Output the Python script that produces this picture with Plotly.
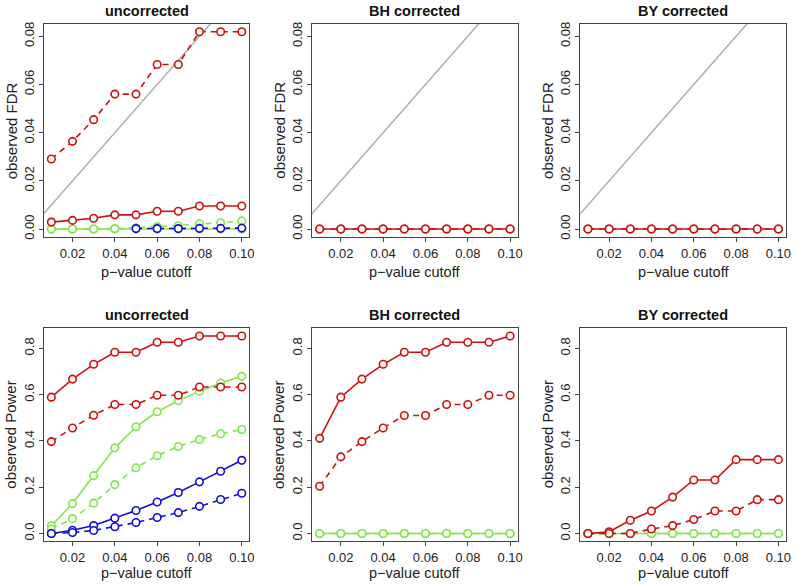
import plotly.graph_objects as go

# ---------------- data ----------------
cutoffs = [0.01, 0.02, 0.03, 0.04, 0.05, 0.06, 0.07, 0.08, 0.09, 0.10]

# observed FDR, uncorrected
fdr_unc_red_solid = [0.0029, 0.0036, 0.0045, 0.0059, 0.0059, 0.0074, 0.0074, 0.0096, 0.0096, 0.0096]
fdr_unc_red_dash = [0.0291, 0.0364, 0.0454, 0.0560, 0.0560, 0.0683, 0.0683, 0.0819, 0.0819, 0.0819]
fdr_unc_green_solid = [0, 0, 0, 0, 0, 0, 0, 0, 0, 0]
fdr_unc_green_dash = [0, 0, 0, 0.0002, 0.0005, 0.0010, 0.0014, 0.0022, 0.0026, 0.0034]
fdr_unc_blue_solid = [None, None, None, None, None, None, None, None, None, None]
fdr_unc_blue_dash = [None, None, None, None, 0.0002, 0.0002, 0.0002, 0.0003, 0.0003, 0.0004]

# observed FDR, BH corrected
fdr_bh_red_solid = [0, 0, 0, 0, 0, 0, 0, 0, 0, 0]
fdr_bh_red_dash = [0, 0, 0, 0, 0, 0, 0, 0, 0, 0]

# observed FDR, BY corrected
fdr_by_red_solid = [0, 0, 0, 0, 0, 0, 0, 0, 0, 0]
fdr_by_red_dash = [0, 0, 0, 0, 0, 0, 0, 0, 0, 0]

# observed power, uncorrected
pow_unc_red_solid = [0.589, 0.667, 0.731, 0.783, 0.783, 0.826, 0.826, 0.853, 0.853, 0.853]
pow_unc_red_dash = [0.397, 0.456, 0.511, 0.557, 0.557, 0.597, 0.597, 0.633, 0.633, 0.633]
pow_unc_green_solid = [0.033, 0.129, 0.250, 0.370, 0.461, 0.526, 0.574, 0.614, 0.650, 0.679]
pow_unc_green_dash = [0.019, 0.064, 0.131, 0.211, 0.284, 0.336, 0.376, 0.406, 0.431, 0.449]
pow_unc_blue_solid = [0.000, 0.014, 0.034, 0.066, 0.099, 0.136, 0.177, 0.223, 0.269, 0.316]
pow_unc_blue_dash = [0.000, 0.004, 0.013, 0.029, 0.047, 0.069, 0.090, 0.117, 0.147, 0.174]

# observed power, BH corrected
pow_bh_red_solid = [0.411, 0.589, 0.667, 0.731, 0.783, 0.783, 0.826, 0.826, 0.826, 0.853]
pow_bh_red_dash = [0.204, 0.331, 0.397, 0.456, 0.510, 0.510, 0.557, 0.557, 0.597, 0.597]
pow_bh_green_solid = [0, 0, 0, 0, 0, 0, 0, 0, 0, 0]
pow_bh_green_dash = [0, 0, 0, 0, 0, 0, 0, 0, 0, 0]

# observed power, BY corrected
pow_by_red_solid = [0.000, 0.007, 0.057, 0.097, 0.157, 0.231, 0.231, 0.319, 0.319, 0.319]
pow_by_red_dash = [0.000, 0.000, 0.000, 0.019, 0.034, 0.060, 0.097, 0.097, 0.146, 0.146]
pow_by_green_solid = [0, 0, 0, 0, 0, 0, 0, 0, 0, 0]
pow_by_green_dash = [0, 0, 0, 0, 0, 0, 0, 0, 0, 0]

panel_titles = ["uncorrected", "BH corrected", "BY corrected"]
x_ticks = [0.02, 0.04, 0.06, 0.08, 0.10]
fdr_ticks = [0.00, 0.02, 0.04, 0.06, 0.08]
pow_ticks = [0.0, 0.2, 0.4, 0.6, 0.8]

RED = "#CD1010"
GREEN = "#80E646"
BLUE = "#1010CD"
GREY = "#A8A8A8"

W, H = 797, 584
col_px = [(44, 251), (314, 521), (584, 791)]
row_px = [(22, 237), (329, 544)]

FONT = "Liberation Sans, Arial, sans-serif"

fig = go.Figure()


def dom_x(c):
    return [col_px[c][0] / W, col_px[c][1] / W]


def dom_y(r):
    return [1 - row_px[r][1] / H, 1 - row_px[r][0] / H]


def add_series(ax, ay, ys, color, dashed):
    fig.add_trace(go.Scatter(
        x=cutoffs, y=ys, mode="lines+markers", xaxis=ax, yaxis=ay,
        line=dict(color=color, width=1.6, dash="6px,5px" if dashed else "solid"),
        marker=dict(symbol="circle", size=7.5, color="white",
                    line=dict(color=color, width=1.6)),
        showlegend=False, hoverinfo="skip", connectgaps=False))


panels = [
    # (row, col, series list in draw order, identity line?)
    (0, 0, [(fdr_unc_green_solid, GREEN, False), (fdr_unc_green_dash, GREEN, True),
            (fdr_unc_blue_solid, BLUE, False), (fdr_unc_blue_dash, BLUE, True),
            (fdr_unc_red_solid, RED, False), (fdr_unc_red_dash, RED, True)], True),
    (0, 1, [(fdr_bh_red_solid, RED, False), (fdr_bh_red_dash, RED, True)], True),
    (0, 2, [(fdr_by_red_solid, RED, False), (fdr_by_red_dash, RED, True)], True),
    (1, 0, [(pow_unc_green_solid, GREEN, False), (pow_unc_green_dash, GREEN, True),
            (pow_unc_blue_solid, BLUE, False), (pow_unc_blue_dash, BLUE, True),
            (pow_unc_red_solid, RED, False), (pow_unc_red_dash, RED, True)], False),
    (1, 1, [(pow_bh_green_dash, GREEN, True), (pow_bh_green_solid, GREEN, False),
            (pow_bh_red_solid, RED, False), (pow_bh_red_dash, RED, True)], False),
    (1, 2, [(pow_by_green_dash, GREEN, True), (pow_by_green_solid, GREEN, False),
            (pow_by_red_solid, RED, False), (pow_by_red_dash, RED, True)], False),
]

layout = dict(width=W, height=H, margin=dict(l=0, r=0, t=0, b=0),
              paper_bgcolor="white", plot_bgcolor="white",
              font=dict(family=FONT, color="#222"), annotations=[])

xmin, xmax = min(cutoffs), max(cutoffs)
xpad = 0.04 * (xmax - xmin)

for i, (r, c, series, ident) in enumerate(panels):
    n = i + 1
    ax = "x" if n == 1 else f"x{n}"
    ay = "y" if n == 1 else f"y{n}"
    if r == 0:
        ymax = max(fdr_unc_red_dash)
        yt, fmt, ytitle = fdr_ticks, ".2f", "observed FDR"
    else:
        ymax = max(pow_unc_red_solid)
        yt, fmt, ytitle = pow_ticks, ".1f", "observed Power"
    ypad = 0.04 * ymax
    if ident:
        fig.add_trace(go.Scatter(x=[0, 1], y=[0, 1], mode="lines", xaxis=ax, yaxis=ay,
                                 line=dict(color=GREY, width=1.4),
                                 showlegend=False, hoverinfo="skip"))
    for ys, colr, dashed in series:
        add_series(ax, ay, ys, colr, dashed)

    axis_common = dict(showline=True, mirror=True, linecolor="#444", linewidth=1,
                       ticks="outside", ticklen=4, tickcolor="#444", tickwidth=1,
                       showgrid=False, zeroline=False,
                       tickfont=dict(family=FONT, size=13, color="#222"))
    layout["xaxis" if n == 1 else f"xaxis{n}"] = dict(
        domain=dom_x(c), anchor=ay, range=[xmin - xpad, xmax + xpad],
        tickvals=x_ticks, tickformat=".2f", **axis_common)
    layout["yaxis" if n == 1 else f"yaxis{n}"] = dict(
        domain=dom_y(r), anchor=ax, range=[-ypad, ymax + ypad],
        tickvals=yt, tickformat=fmt, tickangle=-90, **axis_common)

    x0, x1 = col_px[c]
    y0, y1 = row_px[r]
    cx = (x0 + x1) / 2 / W
    # panel title
    layout["annotations"].append(dict(
        text=f"<b>{panel_titles[c]}</b>", x=cx, y=1 - (y0 - 13) / H,
        xref="paper", yref="paper", showarrow=False, xanchor="center", yanchor="middle",
        font=dict(family=FONT, size=14.5, color="#111")))
    # x title
    layout["annotations"].append(dict(
        text="p\u2212value cutoff", x=cx, y=1 - (y1 + (35 if r == 0 else 32)) / H,
        xref="paper", yref="paper", showarrow=False, xanchor="center", yanchor="middle",
        font=dict(family=FONT, size=14.5, color="#222")))
    # y title
    layout["annotations"].append(dict(
        text=ytitle, x=(x0 - 33) / W, y=1 - (y0 + y1) / 2 / H,
        xref="paper", yref="paper", showarrow=False, xanchor="center", yanchor="middle",
        textangle=-90, font=dict(family=FONT, size=15, color="#222")))

fig.update_layout(**layout)
fig.write_html("out.html", config={"displayModeBar": False},
               post_script="document.body.style.margin='0px';document.body.style.overflow='hidden';")
